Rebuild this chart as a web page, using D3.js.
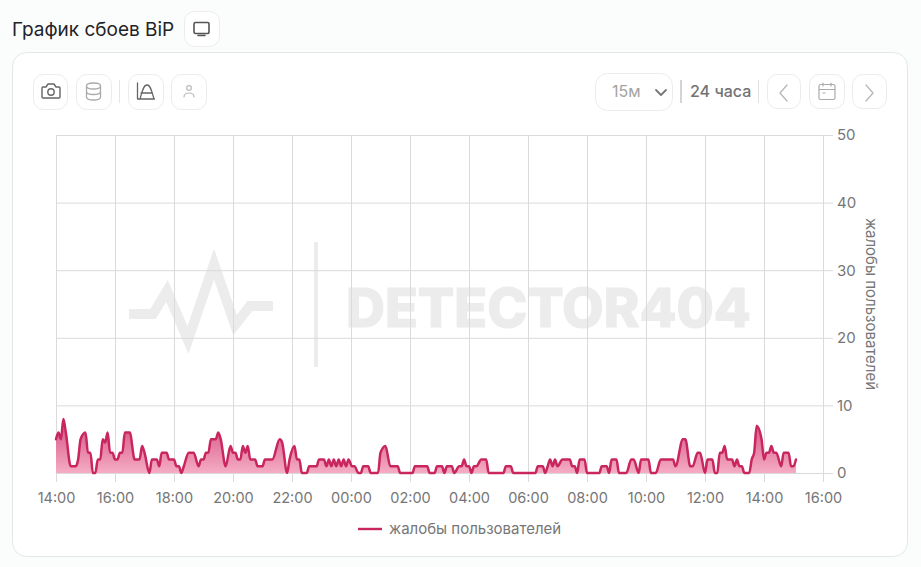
<!DOCTYPE html>
<html lang="ru">
<head>
<meta charset="utf-8">
<title>График сбоев BiP</title>
<script src="https://cdn.jsdelivr.net/npm/d3@7"></script>
<style>
  html, body { margin: 0; padding: 0; background: #fbfdfd; }
  svg { display: block; }
  text { font-family: Inter, "Noto Sans", sans-serif; }
</style>
</head>
<body>
<div id="graph"></div>
<script>
// minutes since 14:00 and the value at that moment
var minutesA = [0,5,10,15,20,30,40,45,50,60,65,70,75,80,85,90,95,100,105,110,115,120,125,130,135,140,150,160,170,175,180,190,195,205,210,215,225,230,240,245,250,255,260,270,280,290,295,300,305,310,315,325,330,335,345,355,360,365,370,375,380,385,390,395,405,410,420,425,440,455,460,470,475,485,490,495,500];
var valuesA  = [5,6,5,8,6,1,1,2,5,6,3,3,0,0,2,2,5,4.5,6,3,3,2,2,3,3,6,6,2,2,4,3,0,2,2,1,3,3,2,2,1,1,0,1,3,3,1,2,2,3,3,5,5,6,5,1,4,3,3,2,2,4,3,4,2,2,1,1,2,2,5,4.5,0,2,4,2,2,0];

var minutesB = [510,515,530,535,545,550,555,560,565,570,575,580,585,590,595,602,607,615,620,625,635,640,655,660,670,680,695,700,725,730,755,760,770,775,785,790,795,805,810,820,825,830,835,840,845,850,855,865,875,880,910,915,925,930,975,980,990,995,1000,1005,1010,1015,1020,1030];
var valuesB  = [0,1,1,2,2,1,2,1,2,1,2,1,2,1,2,1,1,0,0,1,1,0,0,3,4,1,1,0,0,1,1,0,0,1,1,0,1,1,0,1,1,2,1,1,0,1,1,2,2,0,0,1,1,0,0,1,1,0,1,2,1,2,1,2];

var minutesC = [1045,1050,1055,1060,1065,1075,1080,1105,1110,1120,1125,1130,1140,1145,1160,1170,1175,1185,1190,1205,1210,1220,1230,1255,1260,1275,1280,1290,1295,1305,1310,1320,1325,1335,1340,1345,1350,1355,1360,1365,1375,1380,1385,1390,1395,1400,1410,1415,1420,1425,1435,1440,1445,1450,1455,1460,1465,1475,1480,1490,1495,1500,1505];
var valuesC  = [2,1,1,0,2,2,0,0,1,1,0,2,2,0,0,2,2,0,2,2,0,0,2,2,1,5,5,1,1,3,3,0,2,2,0,0,3,3,4,2,2,1,2,1,1,0,0,2,3,7,5,2,3,3,4,3,3,1,3,3,1,1,2];

var xTickLabels = ["14:00","16:00","18:00","20:00","22:00","00:00","02:00","04:00","06:00","08:00","10:00","12:00","14:00","16:00"];
var yTicks = [0,10,20,30,40,50];
var seriesName = "жалобы пользователей";

var minutes = minutesA.concat(minutesB, minutesC);
var complaints = valuesA.concat(valuesB, valuesC);

var width = 921, height = 567;
var lineColor = "#c9265f", gridColor = "#dadada", labelColor = "#767676", btnBorder = "#ececec";

var svg = d3.select("#graph").append("svg")
  .attr("width", width)
  .attr("height", height);

var defs = svg.append("defs");
var grad = defs.append("linearGradient")
  .attr("id", "areaFill")
  .attr("x1", 0).attr("x2", 0).attr("y1", 0).attr("y2", 1);
grad.append("stop").attr("offset", "0%").attr("stop-color", "#d44f80");
grad.append("stop").attr("offset", "100%").attr("stop-color", "#f5acc4");

// title and card
svg.append("text")
  .attr("x", 12).attr("y", 36)
  .attr("font-size", 19)
  .attr("fill", "#1f2328")
  .text("График сбоев BiP");

svg.append("rect")
  .attr("x", 12.5).attr("y", 52.5)
  .attr("width", 895).attr("height", 504)
  .attr("rx", 14)
  .attr("fill", "#fff")
  .attr("stroke", "#e2e7e7");

function button(x, y, w, h) {
  return svg.append("rect")
    .attr("x", x + .5).attr("y", y + .5)
    .attr("width", w).attr("height", h)
    .attr("rx", 10)
    .attr("fill", "#fff")
    .attr("stroke", btnBorder);
}
function icon(d, color, sw) {
  svg.append("path")
    .attr("d", d)
    .attr("fill", "none")
    .attr("stroke", color)
    .attr("stroke-width", sw || 1.3)
    .attr("stroke-linecap", "round")
    .attr("stroke-linejoin", "round");
}

button(184, 11, 35, 35);
icon("M195.500 22.500h12a1.500 1.500 0 0 1 1.500 1.500v8a1.500 1.500 0 0 1 -1.500 1.500h-12a1.500 1.500 0 0 1 -1.500 -1.500v-8a1.500 1.500 0 0 1 1.500 -1.500zM198 35.500h7", "#555", 1.6);

button(33, 74, 34, 35);
icon("M43 87h3l2 -3h6l2 3h3a1 1 0 0 1 1 1v9a1 1 0 0 1 -1 1h-16a1 1 0 0 1 -1 -1v-9a1 1 0 0 1 1 -1z", "#666", 1.4);
svg.append("circle").attr("cx", 51).attr("cy", 92).attr("r", 3.2).attr("fill", "none").attr("stroke", "#666").attr("stroke-width", 1.4);

button(76, 74, 35, 35);
icon("M86.500 86c0 -4 14 -4 14 0v11c0 4 -14 4 -14 0zM86.500 86c0 4 14 4 14 0M86.500 91.500c0 4 14 4 14 0", "#aaa", 1.3);

svg.append("line").attr("x1", 119.5).attr("x2", 119.5).attr("y1", 80).attr("y2", 103).attr("stroke", "#e6e6e6");

button(128, 74, 35, 35);
icon("M137.500 83v16h17M140 99c2 -6 3 -14 7 -14s5 8 7 14M141 93h11", "#666", 1.3);

button(171, 74, 35, 35);
icon("M184 97c0 -3 2 -4 5 -4s5 1 5 4", "#bbb", 1.2);
svg.append("circle").attr("cx", 189).attr("cy", 88).attr("r", 2.4).attr("fill", "none").attr("stroke", "#bbb").attr("stroke-width", 1.2);

button(595, 73, 77, 37).attr("rx", 12);
svg.append("text").attr("x", 612).attr("y", 97).attr("font-size", 16).attr("fill", "#a3a3a3").text("15м");
icon("M656 90l5 5l5 -5", "#777", 1.8);

svg.append("line").attr("x1", 681).attr("x2", 681).attr("y1", 80).attr("y2", 103).attr("stroke", "#d4d4d4").attr("stroke-width", 2);
svg.append("text").attr("x", 690).attr("y", 97).attr("font-size", 16).attr("font-weight", 500).attr("fill", "#737373").text("24 часа");
svg.append("line").attr("x1", 758.5).attr("x2", 758.5).attr("y1", 80).attr("y2", 103).attr("stroke", "#e2e2e2");

button(767, 74, 33, 34);
icon("M787 85l-7 8l7 8", "#b5b5b5", 1.2);
button(809, 74, 35, 34);
icon("M820.500 84.500h13a1.500 1.500 0 0 1 1.500 1.500v12a1.500 1.500 0 0 1 -1.500 1.500h-13a1.500 1.500 0 0 1 -1.500 -1.500v-12a1.500 1.500 0 0 1 1.500 -1.500zM819 89.500h16M823 83v3M831 83v3M823 93h2", "#aaa", 1.2);
button(852, 74, 34, 34);
icon("M866 85l7 8l-7 8", "#b5b5b5", 1.2);

// watermark sits under the grid
var mark = svg.append("g");
mark.append("path")
  .attr("d", "M129 314H153L167 291L188 340L214 264L235 325L250 306H273")
  .attr("fill", "none")
  .attr("stroke", "#ececec")
  .attr("stroke-width", 10)
  .attr("stroke-miterlimit", 6);
mark.append("rect").attr("x", 314).attr("y", 242).attr("width", 4).attr("height", 125).attr("fill", "#ececec");
mark.append("text")
  .attr("x", 346).attr("y", 327)
  .attr("font-size", 54)
  .attr("font-weight", 800)
  .attr("textLength", 405)
  .attr("lengthAdjust", "spacingAndGlyphs")
  .attr("fill", "#ececec")
  .attr("stroke", "#ececec")
  .attr("stroke-width", 1.2)
  .text("DETECTOR404");

// scales
var x = d3.scaleLinear()
  .domain([0, 120 * (xTickLabels.length - 1)])
  .range([56, 823]);
var y = d3.scaleLinear()
  .domain([0, 50])
  .range([473, 135]);

var xAxis = d3.axisBottom(x)
  .tickValues(xTickLabels.map(function(d, i) { return i * 120; }))
  .tickFormat(function(d, i) { return xTickLabels[i]; })
  .tickSizeInner(-(473 - 135))
  .tickSizeOuter(0)
  .tickPadding(20);
var yAxis = d3.axisRight(y)
  .tickValues(yTicks)
  .tickSizeInner(-(823 - 56))
  .tickSizeOuter(0)
  .tickPadding(14);

var gx = svg.append("g").attr("transform", "translate(0,473)").call(xAxis);
var gy = svg.append("g").attr("transform", "translate(823,0)").call(yAxis);
gx.select(".domain").remove();
gy.select(".domain").remove();
gx.selectAll("line").attr("stroke", gridColor).attr("y2", -338);
gx.selectAll(".tick").append("line").attr("y1", 0).attr("y2", 9).attr("stroke", gridColor);
gy.selectAll("line").attr("stroke", gridColor);
gy.selectAll(".tick").append("line").attr("x1", 0).attr("x2", 10).attr("stroke", gridColor);
gx.selectAll("text").attr("font-size", 14.5).attr("fill", labelColor).attr("font-family", 'Inter, sans-serif');
gy.selectAll("text").attr("font-size", 15).attr("fill", labelColor).attr("font-family", 'Inter, sans-serif');

svg.append("text")
  .attr("transform", "translate(866,304) rotate(90)")
  .attr("text-anchor", "middle")
  .attr("font-size", 15)
  .attr("fill", labelColor)
  .text(seriesName);

// series
var points = minutes.map(function(m, i) { return { m: m, v: complaints[i] }; });

var area = d3.area()
  .curve(d3.curveMonotoneX)
  .x(function(d) { return x(d.m); })
  .y0(y(0))
  .y1(function(d) { return y(d.v); });
var line = d3.line()
  .curve(d3.curveMonotoneX)
  .x(function(d) { return x(d.m); })
  .y(function(d) { return y(d.v); });

svg.append("path")
  .datum(points)
  .attr("d", area)
  .attr("fill", "url(#areaFill)");
svg.append("path")
  .datum(points)
  .attr("d", line)
  .attr("fill", "none")
  .attr("stroke", lineColor)
  .attr("stroke-width", 2.5)
  .attr("stroke-linejoin", "round")
  .attr("stroke-linecap", "round");

// legend
svg.append("line")
  .attr("x1", 358).attr("x2", 382)
  .attr("y1", 529).attr("y2", 529)
  .attr("stroke", lineColor)
  .attr("stroke-width", 2.4);
svg.append("text")
  .attr("x", 389).attr("y", 534)
  .attr("font-size", 15)
  .attr("fill", labelColor)
  .text(seriesName);
</script>
</body>
</html>
